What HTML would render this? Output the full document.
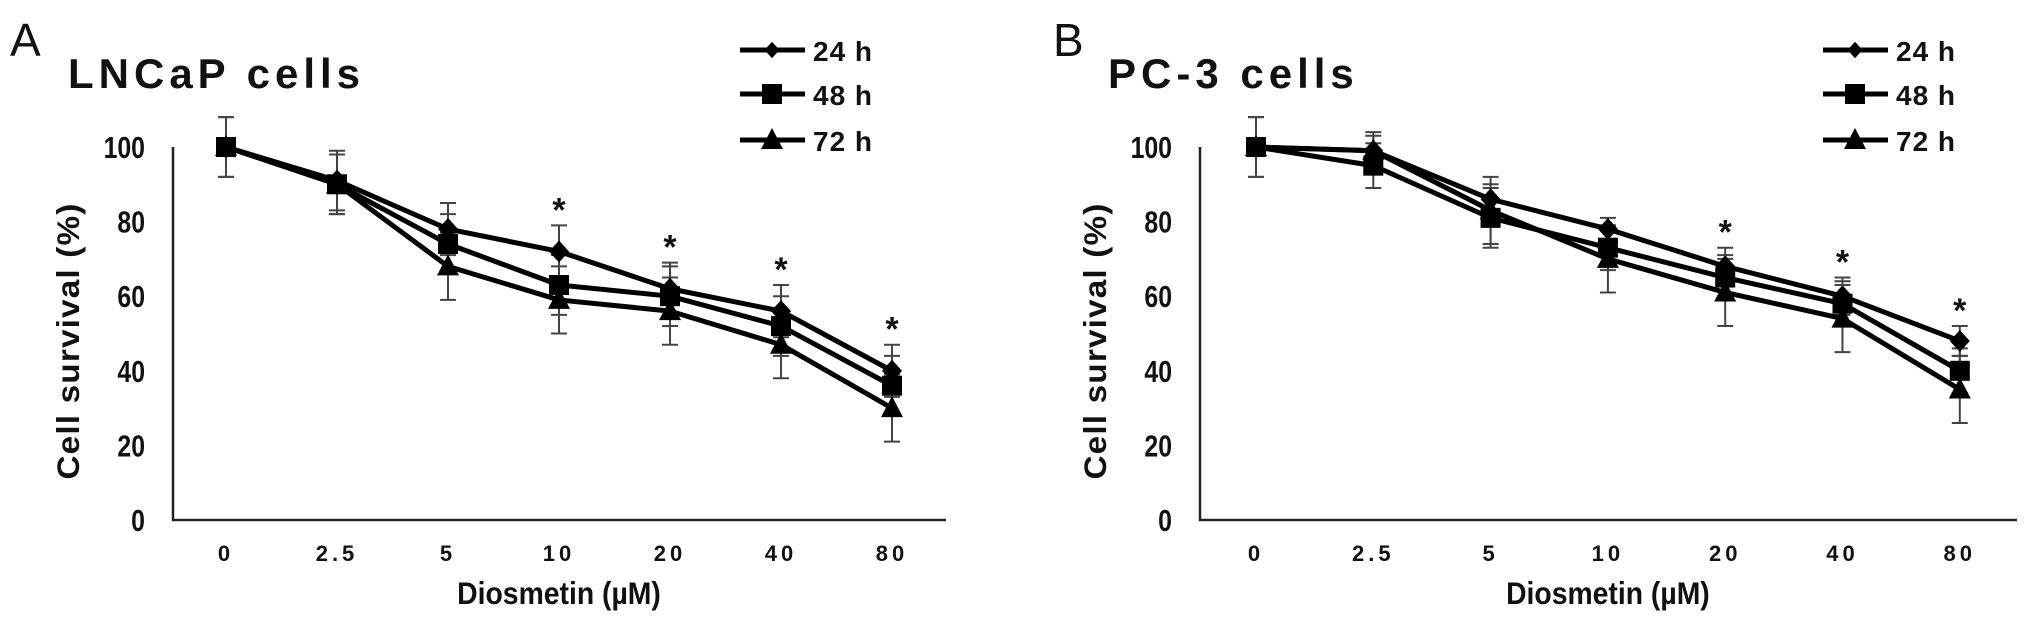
<!DOCTYPE html>
<html><head><meta charset="utf-8"><style>
html,body{margin:0;padding:0;background:#fff;}
svg{display:block;}
text{font-family:"Liberation Sans",Arial,sans-serif;fill:#111;}
</style></head><body>
<svg id="fig" width="2031" height="625" viewBox="0 0 2031 625"></svg>
<script>
const categories = ["0","2.5","5","10","20","40","80"];
const yTicks = [0,20,40,60,80,100];
const seriesNames = ["24 h","48 h","72 h"];
const lncap24 = [100,91,78,72,62,56,40];
const lncap48 = [100,90,74,63,60,52,36];
const lncap72 = [100,90,68,59,56,47,30];
const lncapErr24 = [8,8,7,7,7,7,7];
const lncapErr48 = [8,8,8,8,8,8,8];
const lncapErr72 = [1,8,9,9,9,9,9];
const lncapStars = [false,false,false,true,true,true,true];
const pc24 = [100,99,86,78,68,60,48];
const pc48 = [100,95,81,73,65,58,40];
const pc72 = [100,99,83,70,61,54,35];
const pcErr24 = [8,4,4,3,5,5,4];
const pcErr48 = [8,6,8,6,6,6,6];
const pcErr72 = [1,5,9,9,9,9,9];
const pcStars = [false,false,false,false,true,true,true];

const NS="http://www.w3.org/2000/svg";
const svg=document.getElementById('fig');
function el(tag,attrs,parent,txt){const e=document.createElementNS(NS,tag);for(const k in attrs)e.setAttribute(k,attrs[k]);if(txt!==undefined)e.textContent=txt;(parent||svg).appendChild(e);return e;}

function panel(cfg){
  const g=el('g',{});
  
  
  const y0=520,y100=147;
  const yS=v=>y0-(y0-y100)*v/100;
  const xS=i=>cfg.x0+cfg.step*i;
  const L=el('text',{x:cfg.letterX,y:56,'font-size':46},g,cfg.letter);
  
  
  const T=el('text',{x:cfg.titleX,y:88,'font-size':42,'font-weight':'bold','letter-spacing':5},g,cfg.title);
  
  
  const ax=el('path',{d:`M${cfg.axisX} ${y100} V${y0} H${cfg.axisEnd}`,stroke:'#222','stroke-width':2.5,fill:'none'},g);
  
  
  yTicks.forEach(t=>{
    const tt=el('text',{x:0,y:0,'font-size':27,'font-weight':'bold','text-anchor':'end'},g,String(t));
    tt.setAttribute('transform',`translate(${cfg.axisX-28},${yS(t)+11}) scale(0.92,1.12)`);
    
    
  });
  categories.forEach((c,i)=>{
    const tt=el('text',{x:xS(i),y:561,'font-size':22,'font-weight':'bold','text-anchor':'middle','letter-spacing':4},g,c);
    
    
  });
  const yt=el('text',{transform:`translate(${cfg.axisX-94},341) rotate(-90) scale(1.15,1.1)`,'font-size':29,'font-weight':'bold','text-anchor':'middle','letter-spacing':1},g,'Cell  survival (%)');
  
  
  const xt=el('text',{transform:`translate(${cfg.x0+cfg.step*3},604) scale(1.05,1.15)`,'font-size':27,'font-weight':'bold','text-anchor':'middle'},g,'Diosmetin (µM)');
  
  
  const shapes=['diamond','square','triangle'];
  function marker(x,y,s,par){
    let m;
    if(s==='diamond') m=el('path',{d:`M${x} ${y-11} L${x+10} ${y} L${x} ${y+11} L${x-10} ${y} Z`,fill:'#000'},par);
    else if(s==='square') m=el('rect',{x:x-10,y:y-10,width:20,height:20,fill:'#000'},par);
    else m=el('path',{d:`M${x} ${y-12} L${x+11} ${y+9} L${x-11} ${y+9} Z`,fill:'#000'},par);
    return m;
  }
  cfg.series.forEach((s,si)=>{
    s.vals.forEach((v,i)=>{
      const x=xS(i),e=s.err[i];
      const eb=el('path',{d:`M${x} ${yS(v+e)} V${yS(v-e)} M${x-8} ${yS(v+e)} H${x+8} M${x-8} ${yS(v-e)} H${x+8}`,stroke:'#444','stroke-width':2,fill:'none'},g);
      
      
    });
  });
  cfg.series.forEach((s,si)=>{
    const d=s.vals.map((v,i)=>(i?'L':'M')+xS(i)+' '+yS(v)).join(' ');
    const ln=el('path',{d,stroke:'#000','stroke-width':5,fill:'none','stroke-linejoin':'round'},g);
    
    
    s.vals.forEach((v,i)=>{
      const m=marker(xS(i),yS(v),shapes[si],g);
      
      
    });
  });
  cfg.stars.forEach((st,i)=>{
    if(!st) return;
    const top=Math.max(...cfg.series.map(s=>s.vals[i]+s.err[i]));
    const t=el('text',{x:xS(i),y:yS(top)-4,'font-size':34,'font-weight':'bold','text-anchor':'middle'},g,'*');
    
    
  });
  const ly=[50,94,140];
  seriesNames.forEach((n,i)=>{
    const lg=el('g',{},g);
    
    
    el('line',{x1:cfg.legX,x2:cfg.legX+65,y1:ly[i],y2:ly[i],stroke:'#000','stroke-width':5},lg);
    const m=marker(cfg.legX+32,ly[i],shapes[i],lg);
    if(i===0){m.setAttribute('transform',`translate(${cfg.legX+32},${ly[i]}) scale(0.75) translate(${-(cfg.legX+32)},${-ly[i]})`);}
    el('text',{x:cfg.legX+73,y:ly[i]+11,'font-size':28,'font-weight':'bold','letter-spacing':1},lg,n.replace(' ','  '));
  });
}
panel({name:'lncap-panel',letter:'A',letterX:10,title:'LNCaP  cells',titleX:68,axisX:173,axisEnd:946,x0:226,step:111,legX:740,
  series:[{vals:lncap24,err:lncapErr24},{vals:lncap48,err:lncapErr48},{vals:lncap72,err:lncapErr72}],stars:lncapStars});
panel({name:'pc3-panel',letter:'B',letterX:1053,title:'PC-3  cells',titleX:1108,axisX:1200,axisEnd:2017,x0:1256,step:117.3,legX:1823,
  series:[{vals:pc24,err:pcErr24},{vals:pc48,err:pcErr48},{vals:pc72,err:pcErr72}],stars:pcStars});
</script>
</body></html>
